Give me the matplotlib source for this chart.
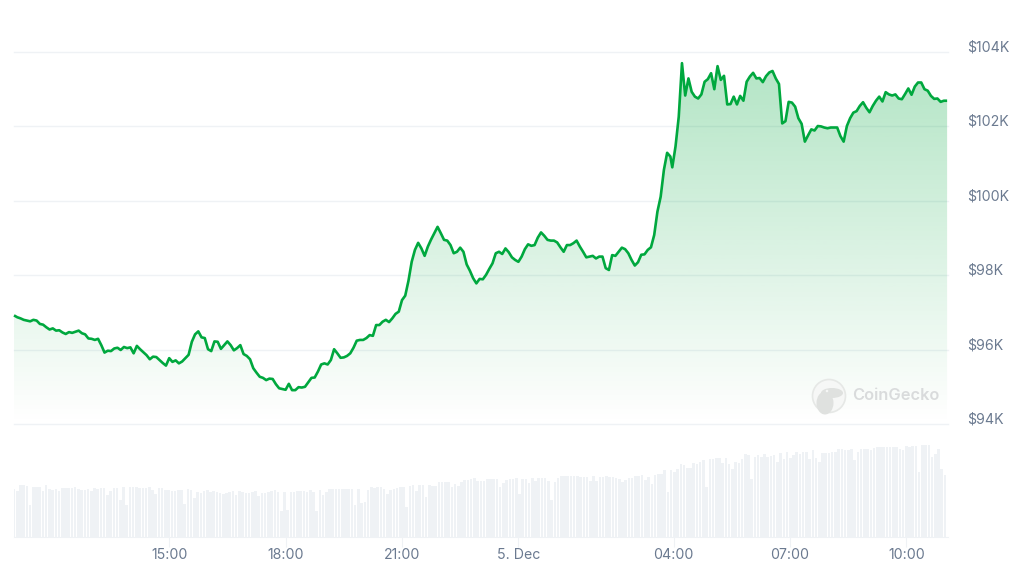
import numpy as np
import matplotlib
matplotlib.use("Agg")
import matplotlib.pyplot as plt
from matplotlib.patches import Circle, Ellipse
from matplotlib.transforms import ScaledTranslation

plt.rcParams['font.family'] = ['Inter', 'DejaVu Sans']

# BTC price in $K, read at roughly 5-minute samples (hours counted from 11:00)
price_a = [96.92,96.87,96.84,96.80,96.78,96.76,96.80,96.78,96.69,96.67,96.60,96.54,96.57,96.51,96.52,96.46,96.42,96.47,96.45,96.48,
 96.51,96.44,96.41,96.30,96.29,96.26,96.29,96.12,95.92,95.97,95.96,96.03,96.05,95.99,96.07,96.04,96.06,95.90,96.10,96.01,
 95.93,95.85,95.74,95.81,95.80,95.72,95.64,95.57,95.77,95.67,95.71,95.63,95.68,95.77,95.86,96.21,96.41,96.49,96.33,96.31,
 96.01,95.96,96.22,96.21,96.02,96.12,96.22,96.12,95.98,96.04,96.12,95.88,95.83,95.74,95.50,95.38,95.27,95.24,95.18,95.22,
 95.21,95.07,94.96,94.94,94.92,95.08,94.91,94.91,94.99,94.98,95.00,95.12,95.24,95.25,95.41,95.60,95.63,95.60,95.72,96.01,
 95.90,95.78,95.79,95.83,95.90,96.05,96.24,96.26,96.26,96.31,96.39,96.37,96.66,96.66,96.75,96.80,96.74,96.84,96.96,97.02,
 97.33,97.45,97.85,98.36,98.68,98.87,98.72,98.52,98.77,98.96,99.13,99.30,99.13,98.95,98.93,98.81,98.59,98.63,98.74,98.63,
 98.29,98.12,97.92,97.78,97.90,97.89,98.01,98.17,98.32,98.59,98.63,98.57,98.72,98.62,98.48,98.41,98.36,98.50,98.70,98.83,
 98.79,98.81,99.01,99.15,99.06,98.95,98.93,98.93,98.88,98.75,98.63,98.81,98.81,98.86,98.93,98.77,98.63,98.48,98.50,98.52,
 98.45,98.50,98.50,98.19,98.14,98.54,98.52,98.63,98.74,98.70,98.59,98.41,98.26,98.35,98.55,98.56,98.68,98.75,99.08,99.71,
 100.11,100.83,101.29,101.19]
price_b = [100.90,101.46,102.26,103.70,102.83,103.29,102.93,102.80,102.75,102.86,103.20,103.27,103.43,103.00,103.62,103.25,103.36,102.59,102.60,102.80,
 102.59,102.82,102.69,103.20,103.34,103.44,103.29,103.30,103.19,103.35,103.45,103.49,103.29,103.14,102.08,102.14,102.66,102.64,102.53,102.22,
 102.07,101.59,101.76,101.92,101.89,102.01,102.00,101.97,101.95,101.97,101.97,101.97,101.74,101.59,102.01,102.22,102.37,102.41,102.55,102.65,
 102.50,102.38,102.55,102.69,102.80,102.67,102.92,102.86,102.83,102.86,102.75,102.73,102.87,103.02,102.85,103.07,103.18,103.18,103.00,102.96,
 102.82,102.74,102.75,102.66,102.69,102.69]
price_a_start, price_b_start = 0.0, 16.966

# Volume, relative bar heights
volume_a = [48,46,52,52,51,32,50,50,50,46,52,48,47,48,46,49,49,49,49,50,48,47,47,48,46,49,48,49,49,42,46,49,49,37,50,32,50,50,50,49,
 49,49,50,47,43,49,49,47,47,46,46,47,47,33,48,47,39,45,44,46,47,45,46,45,44,43,44,45,46,42,46,45,44,44,45,46,41,44,44,45,
 46,47,45,26,45,27,45,45,46,46,46,45,47,45,26,47,42,45]
volume_b = [48,48,48,48,48,48,48,48,32,48,34,35,47,50,49,50,50,48,43,47,48,49,50,50,30,51,52,46,52,52,40,52,51,51,55,55,55,55,50,53,
 51,55,57,57,58,59,56,56,56,58,58,58,58,50,54,57,58,58,59,43,58,58,54,59,56,59,59,59,56,37,55,59,61,61,61,61,61,61,60,60,
 60,56,61,56,60,60,61,60,60,59,58,55,57,59,59,61,61]
volume_c = [62,57,60,53,62,63,63,67,45,67,65,68,73,72,69,69,74,73,75,77,50,78,78,79,79,74,79,73,68,75,74,78,83,82,58,80,82,80,83,80,
 81,82,75,84,78,85,79,82,85,83,85,85,78,87,79,75,84,84,84,85,85,88,88,87,87,88,77,85,88,88,88,87,89,90,90,90,90,90,90,90,
 88,87,91,90,91,91,65,92,92,92,80,83,88,68,62]
volume_starts = [0.0, 8.13, 16.19]

y_ticks = [94, 96, 98, 100, 102, 104]
y_labels = ['$94K', '$96K', '$98K', '$100K', '$102K', '$104K']
x_ticks = [4, 7, 10, 13, 17, 20, 23]
x_labels = ['15:00', '18:00', '21:00', '5. Dec', '04:00', '07:00', '10:00']

STEP = 5 / 60
GREEN = '#00a83e'
GRID = '#eff2f5'
TEXT = '#6b7a90'
XMAX = 934 / 38.8

fig = plt.figure(figsize=(10.24, 5.76), dpi=100, facecolor='white')
W, H = 1024, 576
ax = fig.add_axes([14 / W, 1 - 424 / H, 934 / W, 372 / H])
axv = fig.add_axes([14 / W, 1 - 537 / H, 934 / W, 100 / H])

t = np.concatenate([price_a_start + STEP * np.arange(len(price_a)),
                    price_b_start + STEP * np.arange(len(price_b))])
p = np.array(price_a + price_b)

# gradient area under the line, laid over the grid
rgba = np.zeros((256, 1, 4))
rgba[..., :3] = matplotlib.colors.to_rgb(GREEN)
rgba[..., 3] = np.linspace(0.31, 0, 256)[:, None]
im = ax.imshow(rgba, extent=(0, XMAX, 94, 104), aspect='auto', origin='upper', zorder=1, interpolation='bilinear')
poly = ax.fill_between(t, p, 94, color='none', lw=0)
im.set_clip_path(poly.get_paths()[0], transform=ax.transData)

ax.plot(t, p, color=GREEN, lw=1.9, zorder=3, solid_joinstyle='round', solid_capstyle='butt', clip_on=False)

ax.set_xlim(0, XMAX)
ax.set_ylim(94, 104)
ax.set_xticks([])
ax.yaxis.tick_right()
ax.set_yticks(y_ticks)
ax.set_yticklabels(y_labels, fontsize=10.2, color=TEXT)
ax.tick_params(axis='y', length=0, pad=13.8)
ax.set_axisbelow(True)
ax.grid(axis='y', color=GRID, lw=1.0)
for gl in ax.get_ygridlines():
    gl.set_clip_on(False)
shift = ScaledTranslation(0, 6 / 100, fig.dpi_scale_trans)
for lab in ax.get_yticklabels():
    lab.set_transform(lab.get_transform() + shift)
for s in ax.spines.values():
    s.set_visible(False)

# volume bars
for start, vals in zip(volume_starts, [volume_a, volume_b, volume_c]):
    axv.bar(start + 0.083 * np.arange(len(vals)), vals, width=0.066, color=GRID, lw=0)
axv.set_xlim(0, XMAX)
axv.set_ylim(0, 100)
axv.set_yticks([])
axv.set_xticks(x_ticks)
axv.set_xticklabels(x_labels, fontsize=10.2, color=TEXT)
axv.tick_params(axis='x', length=7.2, width=0.8, color=GRID, pad=1)
for name, s in axv.spines.items():
    s.set_visible(name == 'bottom')
    s.set_color(GRID)
axv.patch.set_alpha(0)

# CoinGecko watermark
ov = fig.add_axes([0, 0, 1, 1], zorder=5)
ov.set_xlim(0, W)
ov.set_ylim(H, 0)
ov.axis('off')
ov.add_patch(Circle((829, 396), 16.5, fc='#f6f7f6', ec='#e6e8e6', lw=1.2))
ov.add_patch(Ellipse((825, 403), 17, 23, fc='#dfe1df', ec='none'))
ov.add_patch(Ellipse((832, 393), 22, 10, fc='#dfe1df', ec='none'))
ov.add_patch(Circle((827, 391), 1.3, fc='#f6f7f6', ec='none'))
ov.text(852, 395, 'CoinGecko', fontsize=11.8, fontweight='semibold', color='#d9dbdc', va='center', ha='left')

fig.savefig('out.png', dpi=100)
